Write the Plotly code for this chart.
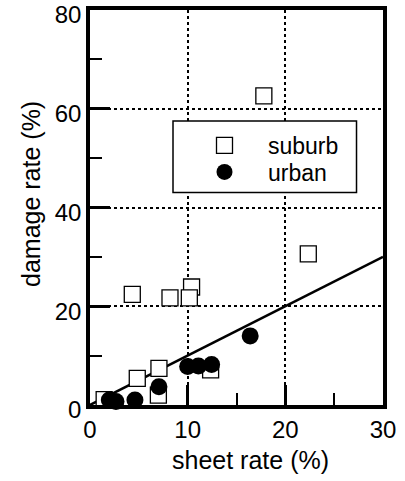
import plotly.graph_objects as go

suburb_x = [17.8, 22.35, 4.33, 8.19, 10.4, 10.17, 7.06, 4.84, 12.35, 1.45, 7.0]
suburb_y = [62.6, 30.6, 22.4, 21.7, 23.9, 21.7, 7.4, 5.4, 7.1, 1.1, 2.0]
urban_x = [16.4, 10.0, 11.1, 12.45, 7.06, 4.6, 2.66, 1.98]
urban_y = [14.0, 7.8, 7.9, 8.2, 3.7, 1.0, 0.7, 1.0]
fit_x = [0, 30]
fit_y = [0, 30]
x_title = "sheet rate (%)"
y_title = "damage rate (%)"

FONT = "Liberation Sans, Arial, Helvetica, sans-serif"

fig = go.Figure()
fig.add_trace(go.Scatter(x=fit_x, y=fit_y, mode="lines", line=dict(color="black", width=2.5),
                         showlegend=False, hoverinfo="skip"))
fig.add_trace(go.Scatter(x=suburb_x, y=suburb_y, mode="markers", name="suburb", legend="legend",
                         marker=dict(symbol="square", size=16, color="white",
                                     line=dict(color="black", width=1.3)),
                         cliponaxis=False))
fig.add_trace(go.Scatter(x=urban_x, y=urban_y, mode="markers", name="urban", legend="legend2",
                         marker=dict(symbol="circle", size=17, color="black",
                                     line=dict(color="black", width=0)),
                         cliponaxis=False))

# legend box
fig.add_shape(type="rect", xref="paper", yref="paper",
              x0=0.2833, x1=0.9096, y0=0.538, y1=0.719,
              fillcolor="white", line=dict(color="black", width=1.5), layer="above")

axis_common = dict(showline=True, linecolor="black", linewidth=3.5, mirror=True,
                   ticks="inside", ticklen=20, tickwidth=3, tickcolor="#000000",
                   showgrid=True, gridcolor="black", griddash="dot", gridwidth=1.5,
                   zeroline=False, automargin=False, ticklabeloverflow="allow",
                   tickfont=dict(family=FONT, size=24, color="black"))

fig.update_xaxes(range=[0, 30], tickmode="linear", tick0=0, dtick=10,
                 minor=dict(tickmode="linear", tick0=0, dtick=5, ticks="inside", ticklen=12,
                            tickwidth=2, tickcolor="black", showgrid=False),
                 ticklabelstandoff=0,
                 **axis_common)
fig.update_yaxes(range=[0, 80], tickmode="linear", tick0=0, dtick=20,
                 minor=dict(tickmode="linear", tick0=0, dtick=10, ticks="inside", ticklen=12,
                            tickwidth=2, tickcolor="black", showgrid=False),
                 ticklabelshift=5,
                 **axis_common)

fig.add_annotation(text=x_title, xref="paper", yref="paper", x=(250 - 90) / 293, y=(405 - 460) / 395,
                   xanchor="center", yanchor="middle", showarrow=False,
                   font=dict(family=FONT, size=25, color="black"))
fig.add_annotation(text=y_title, xref="paper", yref="paper", x=(31 - 90) / 293, y=(405 - 194) / 395,
                   xanchor="center", yanchor="middle", showarrow=False, textangle=-90,
                   font=dict(family=FONT, size=25, color="black"))

leg_common = dict(xanchor="left", yanchor="middle", bgcolor="rgba(0,0,0,0)", borderwidth=0,
                  font=dict(family=FONT, size=23, color="black"), itemwidth=77)

fig.update_layout(
    width=405, height=481,
    margin=dict(l=90, r=22, t=10, b=76),
    paper_bgcolor="white", plot_bgcolor="white",
    legend=dict(x=(181 - 90) / 293, y=(405 - 145.5) / 395, **leg_common),
    legend2=dict(x=(181 - 90) / 293, y=(405 - 172) / 395, **leg_common),
    showlegend=True,
)

fig.write_html("out.html", config={"displayModeBar": False},
               post_script="document.body.style.margin='0px';")
